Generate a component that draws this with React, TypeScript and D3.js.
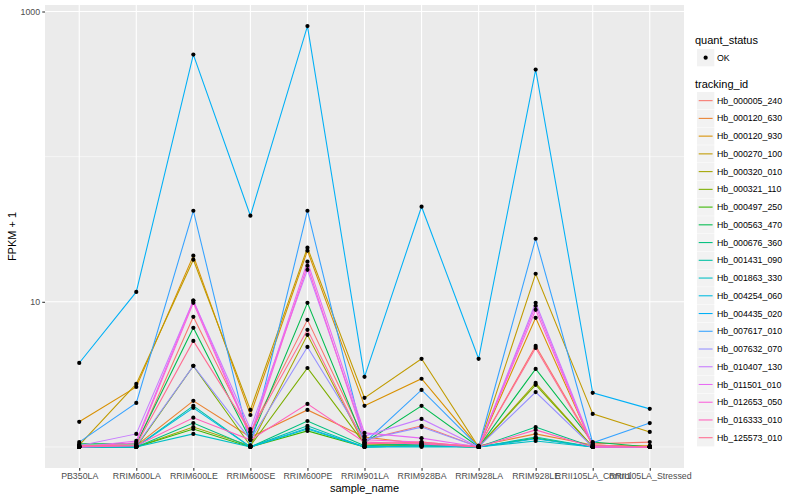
import * as d3 from "d3";
import { useEffect, useRef } from "react";

const samples = [
    "PB350LA", "RRIM600LA", "RRIM600LE", "RRIM600SE", "RRIM600PE", "RRIM901LA",
    "RRIM928BA", "RRIM928LA", "RRIM928LE", "RRII105LA_Control", "RRII105LA_Stressed",
];

const trackingIds = [
    "Hb_000005_240", "Hb_000120_630", "Hb_000120_930", "Hb_000270_100", "Hb_000320_010",
    "Hb_000321_110", "Hb_000497_250", "Hb_000563_470", "Hb_000676_360", "Hb_001431_090",
    "Hb_001863_330", "Hb_004254_060", "Hb_004435_020", "Hb_007617_010", "Hb_007632_070",
    "Hb_010407_130", "Hb_011501_010", "Hb_012653_050", "Hb_016333_010", "Hb_125573_010",
];

// FPKM + 1, one row per tracking id, columns follow `samples`
const fpkm: number[][] = [
    [1.02, 1.02, 7.88, 1.27, 7.51, 1.12, 1.40, 1.00, 4.97, 1.05, 1.08],
    [1.00, 1.02, 2.08, 1.17, 1.80, 1.17, 1.05, 1.02, 1.23, 1.03, 1.00],
    [1.49, 2.59, 20.8, 1.66, 22.5, 1.92, 2.95, 1.00, 7.76, 1.02, 1.02],
    [1.03, 2.72, 19.5, 1.80, 23.6, 2.18, 4.05, 1.00, 15.6, 1.69, 1.27],
    [1.00, 1.00, 1.37, 1.02, 5.92, 1.03, 1.02, 1.00, 2.76, 1.00, 1.00],
    [1.00, 1.00, 3.62, 1.02, 3.50, 1.05, 1.03, 1.00, 2.68, 1.00, 1.00],
    [1.00, 1.00, 1.33, 1.00, 1.29, 1.00, 1.02, 1.00, 1.15, 1.00, 1.00],
    [1.05, 1.05, 6.62, 1.12, 9.84, 1.07, 1.92, 1.00, 3.45, 1.08, 1.00],
    [1.00, 1.00, 1.46, 1.00, 1.51, 1.02, 1.05, 1.00, 1.37, 1.00, 1.00],
    [1.00, 1.00, 1.92, 1.00, 1.40, 1.00, 1.02, 1.00, 1.17, 1.00, 1.00],
    [1.00, 1.00, 1.23, 1.00, 1.33, 1.00, 1.00, 1.00, 1.10, 1.00, 1.00],
    [1.00, 1.00, 1.86, 1.00, 1.35, 1.00, 1.02, 1.00, 1.14, 1.00, 1.00],
    [3.79, 11.7, 505, 39.2, 794, 3.04, 45.2, 4.05, 398, 2.36, 1.83],
    [1.08, 2.01, 42.4, 1.02, 42.4, 1.07, 2.47, 1.00, 27.2, 1.07, 1.46],
    [1.00, 1.02, 3.62, 1.12, 4.89, 1.12, 1.37, 1.00, 2.39, 1.00, 1.00],
    [1.02, 1.23, 10.2, 1.33, 16.6, 1.19, 1.56, 1.00, 9.84, 1.02, 1.00],
    [1.00, 1.10, 10.2, 1.21, 18.9, 1.25, 1.15, 1.00, 9.38, 1.00, 1.00],
    [1.00, 1.07, 9.84, 1.17, 17.7, 1.12, 1.08, 1.00, 8.81, 1.00, 1.00],
    [1.00, 1.02, 1.59, 1.12, 1.98, 1.08, 1.05, 1.00, 1.31, 1.00, 1.00],
    [1.02, 1.03, 5.38, 1.27, 6.41, 1.05, 1.08, 1.00, 4.81, 1.03, 1.00],
];

const yBreaks = [10, 1000];
const yMinor = [1, 100];

const colors = [
    "#F8766D", "#EA8331", "#D89000", "#C09B00", "#A3A500", "#7CAE00", "#39B600", "#00BB4E",
    "#00BF7D", "#00C1A3", "#00BFC4", "#00BAE0", "#00B0F6", "#35A2FF", "#9590FF", "#C77CFF",
    "#E76BF3", "#FA62DB", "#FF62BC", "#FF6C91",
];

const W = 800;
const H = 500;
const font = "'Liberation Sans', Arial, Helvetica, sans-serif";

export default function App() {
    const svgRef = useRef<SVGSVGElement>(null);

    useEffect(() => {
        if (svgRef.current) drawChart();
    }, []);

    const drawChart = () => {
        const svg = d3.select(svgRef.current);
        svg.selectAll("*").remove();

        const left = 45, right = 684, top = 5, bottom = 468;

        // discrete x axis, ggplot style 0.6 expansion
        const x = d3.scalePoint<string>().domain(samples).range([left, right]).padding(0.6);

        // log y with 5% expansion of the data range
        const all = fpkm.flat();
        const lo = Math.log10(d3.min(all)!);
        const hi = Math.log10(d3.max(all)!);
        const pad = (hi - lo) * 0.05;
        const y = d3.scaleLog().domain([10 ** (lo - pad), 10 ** (hi + pad)]).range([bottom, top]);

        svg.append("rect").attr("width", W).attr("height", H).attr("fill", "#ffffff");
        svg.append("rect")
            .attr("x", left).attr("y", top)
            .attr("width", right - left).attr("height", bottom - top)
            .attr("fill", "#EBEBEB");

        // grid
        const grid = svg.append("g");
        yMinor.forEach((v) => {
            grid.append("line")
                .attr("x1", left).attr("x2", right)
                .attr("y1", y(v)).attr("y2", y(v))
                .attr("stroke", "#ffffff").attr("stroke-width", 0.55);
        });
        yBreaks.forEach((v) => {
            grid.append("line")
                .attr("x1", left).attr("x2", right)
                .attr("y1", y(v)).attr("y2", y(v))
                .attr("stroke", "#ffffff").attr("stroke-width", 1.1);
        });
        samples.forEach((s) => {
            grid.append("line")
                .attr("x1", x(s)!).attr("x2", x(s)!)
                .attr("y1", top).attr("y2", bottom)
                .attr("stroke", "#ffffff").attr("stroke-width", 1.1);
        });

        // lines
        const line = d3.line<number>()
            .x((_, i) => x(samples[i])!)
            .y((d) => y(d));
        const lines = svg.append("g");
        fpkm.forEach((row, k) => {
            lines.append("path")
                .attr("d", line(row))
                .attr("fill", "none")
                .attr("stroke", colors[k])
                .attr("stroke-width", 1.07);
        });

        // points
        const pts = svg.append("g");
        fpkm.forEach((row) => {
            row.forEach((v, i) => {
                pts.append("circle")
                    .attr("cx", x(samples[i])!)
                    .attr("cy", y(v))
                    .attr("r", 2.1)
                    .attr("fill", "#000000");
            });
        });

        // y axis
        const yAxis = svg.append("g")
            .attr("transform", `translate(${left},0)`)
            .call(d3.axisLeft(y).tickValues(yBreaks).tickSize(2.75).tickPadding(2.2).tickFormat((d) => `${d}`));
        yAxis.select(".domain").remove();
        yAxis.selectAll("line").attr("stroke", "#333333").attr("stroke-width", 1.07);
        yAxis.selectAll("text").attr("fill", "#4D4D4D").style("font-family", font).style("font-size", "8.8px");

        // x axis
        const xAxis = svg.append("g")
            .attr("transform", `translate(0,${bottom})`)
            .call(d3.axisBottom(x).tickSize(2.75).tickPadding(2.2));
        xAxis.select(".domain").remove();
        xAxis.selectAll("line").attr("stroke", "#333333").attr("stroke-width", 1.07);
        xAxis.selectAll("text").attr("fill", "#4D4D4D").style("font-family", font).style("font-size", "8.8px");

        // axis titles
        svg.append("text")
            .attr("x", (left + right) / 2).attr("y", 492)
            .attr("text-anchor", "middle")
            .style("font-family", font).style("font-size", "11px")
            .text("sample_name");
        svg.append("text")
            .attr("transform", `translate(16,${(top + bottom) / 2}) rotate(-90)`)
            .attr("text-anchor", "middle")
            .style("font-family", font).style("font-size", "11px")
            .text("FPKM + 1");

        // legends
        const lx = 695;
        const legend = svg.append("g");
        legend.append("text")
            .attr("x", lx).attr("y", 44)
            .style("font-family", font).style("font-size", "11px")
            .text("quant_status");
        legend.append("rect")
            .attr("x", lx + 2).attr("y", 49).attr("width", 17.3).attr("height", 17.3)
            .attr("fill", "#F2F2F2");
        legend.append("circle")
            .attr("cx", lx + 2 + 8.65).attr("cy", 49 + 8.65).attr("r", 2.1).attr("fill", "#000000");
        legend.append("text")
            .attr("x", lx + 22).attr("y", 49 + 8.65).attr("dy", "0.35em")
            .style("font-family", font).style("font-size", "8.8px")
            .text("OK");

        legend.append("text")
            .attr("x", lx).attr("y", 88)
            .style("font-family", font).style("font-size", "11px")
            .text("tracking_id");
        const key = 17.74;
        trackingIds.forEach((id, k) => {
            const ky = 92 + k * key;
            legend.append("rect")
                .attr("x", lx + 2).attr("y", ky).attr("width", 17.3).attr("height", 17.3)
                .attr("fill", "#F2F2F2");
            legend.append("line")
                .attr("x1", lx + 3.7).attr("x2", lx + 17.6)
                .attr("y1", ky + 8.65).attr("y2", ky + 8.65)
                .attr("stroke", colors[k]).attr("stroke-width", 1.07);
            legend.append("text")
                .attr("x", lx + 22).attr("y", ky + 8.65).attr("dy", "0.35em")
                .style("font-family", font).style("font-size", "8.8px")
                .text(id);
        });
    };

    return (
        <svg
            ref={svgRef}
            width={W}
            height={H}
            style={{ position: "absolute", left: 0, top: 0, display: "block" }}
        />
    );
}
